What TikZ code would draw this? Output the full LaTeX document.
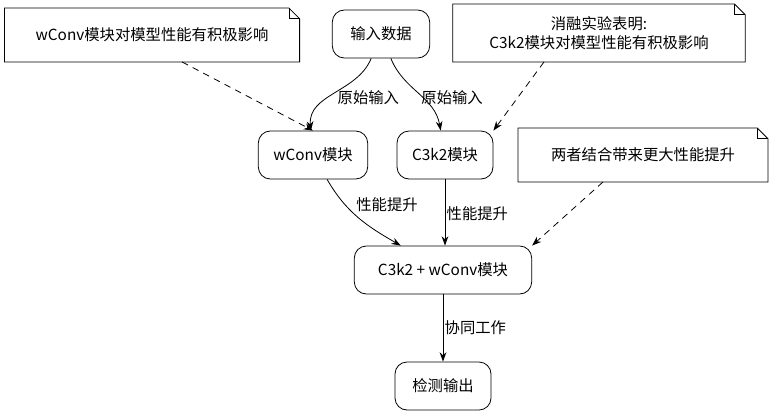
\documentclass[tikz,border=0pt]{standalone}
\usepackage{fontspec}
\setmainfont{Noto Sans CJK SC}
\usetikzlibrary{arrows.meta}
\begin{document}
\begin{tikzpicture}[x=0.75pt,y=-0.75pt,
    every node/.style={font=\fontsize{11.5}{14}\selectfont, align=center, inner sep=0pt},
    proc/.style={draw, rounded corners=9pt, minimum height=36pt, line width=0.6pt},
    note/.style={minimum height=40pt},
    edge/.style={-{Stealth[length=7pt,width=5pt]}, line width=0.6pt},
    dashedge/.style={edge, dash pattern=on 5pt off 4pt}
]
\useasboundingbox (0,0) rectangle (774,415);
% notes
\newcommand\notebox[1]{\draw[line width=0.6pt] (#1.north west) -- ([xshift=-8pt]#1.north east) -- ([yshift=-8pt]#1.north east) -- (#1.south east) -- (#1.south west) -- cycle;
  \draw[line width=0.6pt] ([xshift=-8pt]#1.north east) |- ([yshift=-8pt]#1.north east);}
\node[note, minimum width=221pt] (n1) at (152,35) {wConv模块对模型性能有积极影响};
\node[note, minimum width=219pt, minimum height=43pt] (n2) at (599,33) {消融实验表明:\\C3k2模块对模型性能有积极影响};
\node[note, minimum width=187pt] (n3) at (643,155) {两者结合带来更大性能提升};
\notebox{n1}\notebox{n2}\notebox{n3}
% process nodes
\node[proc, minimum width=73pt] (in) at (381,34) {输入数据};
\node[proc, minimum width=82pt] (wc) at (313,155) {wConv模块};
\node[proc, minimum width=72pt] (c3) at (445,155) {C3k2模块};
\node[proc, minimum width=133pt] (cb) at (443,270) {C3k2 + wConv模块};
\node[proc, minimum width=72pt] (out) at (443,386) {检测输出};
% edges
\draw[edge] (in) to[out=-112,in=95] node[right, xshift=2pt, yshift=-3pt] {原始输入} (wc);
\draw[edge] (in) to[out=-68,in=100] node[right, xshift=2pt, yshift=-3pt] {原始输入} (c3);
\draw[edge] (wc) to[out=-60,in=150] node[above right, xshift=-2pt, yshift=4pt] {性能提升} (cb);
\draw[edge] (c3) -- node[right, xshift=1pt, yshift=-1pt] {性能提升} (c3 |- cb.north);
\draw[edge] (cb) -- node[right, xshift=1pt] {协同工作} (out);
\draw[dashedge] (n1.south) ++(30,0) -- (wc.north);
\draw[dashedge] (n2.south) ++(-55,0) -- (c3.north east);
\draw[dashedge] (n3.south) ++(-40,0) -- (cb.north east);
\end{tikzpicture}
\end{document}
